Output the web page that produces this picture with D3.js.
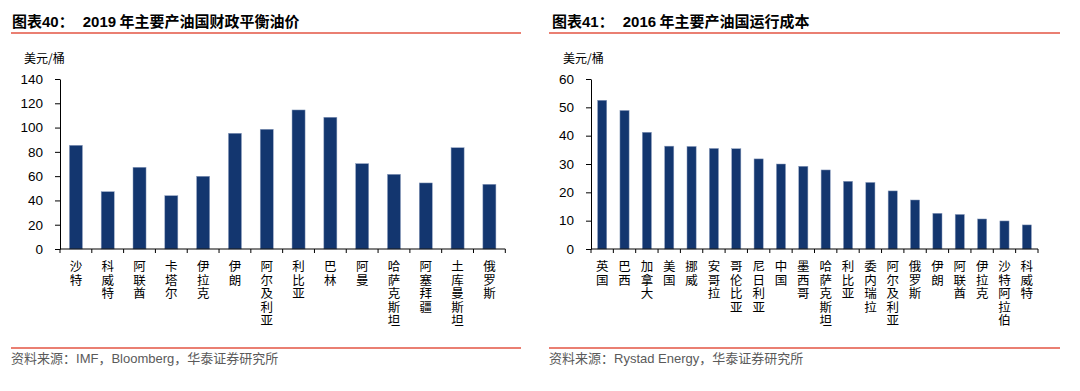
<!DOCTYPE html>
<html>
<head>
<meta charset="utf-8">
<script src="https://cdn.jsdelivr.net/npm/d3@7"></script>
<style>
  body { margin: 0; background: #fff; }
  svg { display: block; }
</style>
</head>
<body>
<div id="chart"></div>
<script>
// 图表40 data
const countries40 = ["沙特", "科威特", "阿联酋", "卡塔尔", "伊拉克", "伊朗", "阿尔及利亚", "利比亚", "巴林", "阿曼", "哈萨克斯坦", "阿塞拜疆", "土库曼斯坦", "俄罗斯"];
const breakeven40 = [85.4, 47.2, 67.3, 43.9, 59.9, 95.3, 98.6, 114.5, 108.5, 70.3, 61.5, 54.4, 83.4, 53.3];
const yTicks40 = [0, 20, 40, 60, 80, 100, 120, 140];

// 图表41 data
const countries41 = ["英国", "巴西", "加拿大", "美国", "挪威", "安哥拉", "哥伦比亚", "尼日利亚", "中国", "墨西哥", "哈萨克斯坦", "利比亚", "委内瑞拉", "阿尔及利亚", "俄罗斯", "伊朗", "阿联酋", "伊拉克", "沙特阿拉伯", "科威特"];
const cost41 = [52.5, 48.9, 41.2, 36.3, 36.2, 35.5, 35.4, 31.8, 30.0, 29.2, 27.9, 23.9, 23.5, 20.5, 17.3, 12.6, 12.2, 10.6, 9.9, 8.5];
const yTicks41 = [0, 10, 20, 30, 40, 50, 60];

const W = 1080, H = 391;
const barColor = "#13366f";
const redLine = "#ea7f72";
const cjk = "'Noto Sans CJK SC', sans-serif";
const latin = "'Liberation Sans', Arial, sans-serif";

const svg = d3.select("#chart").append("svg")
  .attr("width", W)
  .attr("height", H);

function panel(p) {
  const g = svg.append("g");

  // title
  const title = g.append("text")
    .attr("x", p.titleX)
    .attr("y", 27)
    .style("font-size", "15px")
    .style("font-weight", "bold")
    .style("fill", "#000");
  title.append("tspan").style("font-family", cjk).text("图表");
  title.append("tspan").style("font-family", latin).text(p.num);
  title.append("tspan").style("font-family", cjk).text("：");
  title.append("tspan").attr("dx", 9).style("font-family", latin).text(p.year);
  title.append("tspan").style("font-family", cjk).text(" " + p.title);

  g.append("line")
    .attr("x1", p.lineX[0]).attr("x2", p.lineX[1])
    .attr("y1", 33).attr("y2", 33)
    .style("stroke", redLine).style("stroke-width", 2);

  // unit label
  g.append("text")
    .attr("x", p.unitX)
    .attr("y", 63)
    .style("font-family", cjk)
    .style("font-size", "12px")
    .style("fill", "#000")
    .text("美元/桶");

  const x = d3.scaleBand()
    .domain(p.cats)
    .range(p.xRange)
    .paddingInner(0.59)
    .paddingOuter(0.295);

  const y = d3.scaleLinear()
    .domain([0, d3.max(p.ticks)])
    .range([249, 79]);

  // bars
  g.selectAll(".bar")
    .data(p.values)
    .enter()
    .append("rect")
    .attr("class", "bar")
    .attr("x", (d, i) => x(p.cats[i]))
    .attr("y", d => y(d))
    .attr("width", x.bandwidth())
    .attr("height", d => y(0) - y(d))
    .style("fill", barColor)
    .style("stroke", "#8fa0bf")
    .style("stroke-width", 0.5);

  // y axis
  const ya = g.append("g")
    .attr("transform", "translate(" + p.xRange[0] + ",0)")
    .call(d3.axisLeft(y).tickValues(p.ticks).tickSize(5).tickSizeOuter(0).tickPadding(12));
  ya.select(".domain").style("stroke", "#000");
  ya.selectAll(".tick line").style("stroke", "#000");
  ya.selectAll(".tick text")
    .style("font-family", latin)
    .style("font-size", "13.5px")
    .style("fill", "#000");

  // x axis line with ticks at band boundaries
  g.append("line")
    .attr("x1", p.xRange[0]).attr("x2", p.xRange[1])
    .attr("y1", y(0)).attr("y2", y(0))
    .style("stroke", "#000");
  const bounds = d3.range(p.cats.length + 1).map(i => p.xRange[0] + i * x.step());
  g.selectAll(".xtick")
    .data(bounds)
    .enter()
    .append("line")
    .attr("class", "xtick")
    .attr("x1", d => d).attr("x2", d => d)
    .attr("y1", y(0)).attr("y2", y(0) + 4)
    .style("stroke", "#000");

  // vertical category labels
  g.selectAll(".xlab")
    .data(p.cats)
    .enter()
    .append("text")
    .attr("class", "xlab")
    .attr("x", d => x(d) + x.bandwidth() / 2)
    .attr("y", 260)
    .style("writing-mode", "vertical-rl")
    .style("font-family", cjk)
    .style("font-size", "12.5px")
    .style("letter-spacing", "1px")
    .style("fill", "#000")
    .text(d => d);

  // source
  g.append("line")
    .attr("x1", p.lineX[0]).attr("x2", p.srcLineEnd)
    .attr("y1", 348).attr("y2", 348)
    .style("stroke", redLine).style("stroke-width", 2);

  const src = g.append("text")
    .attr("x", p.lineX[0])
    .attr("y", 363)
    .style("font-size", "13px")
    .style("fill", "#5a5a5a");
  src.append("tspan").style("font-family", cjk).text("资料来源：");
  p.source.forEach((s, i) => {
    src.append("tspan").style("font-family", latin).text(s);
    src.append("tspan").style("font-family", cjk).text("，");
  });
  src.append("tspan").style("font-family", cjk).text("华泰证券研究所");
}

panel({
  titleX: 12, num: "40", year: "2019", title: "年主要产油国财政平衡油价",
  lineX: [11, 521], srcLineEnd: 521, unitX: 24,
  cats: countries40, values: breakeven40, ticks: yTicks40,
  xRange: [60, 505.3], source: ["IMF", "Bloomberg"]
});

panel({
  titleX: 552, num: "41", year: "2016", title: "年主要产油国运行成本",
  lineX: [549, 1060], srcLineEnd: 1060, unitX: 563,
  cats: countries41, values: cost41, ticks: yTicks41,
  xRange: [591, 1038], source: ["Rystad Energy"]
});
</script>
</body>
</html>
